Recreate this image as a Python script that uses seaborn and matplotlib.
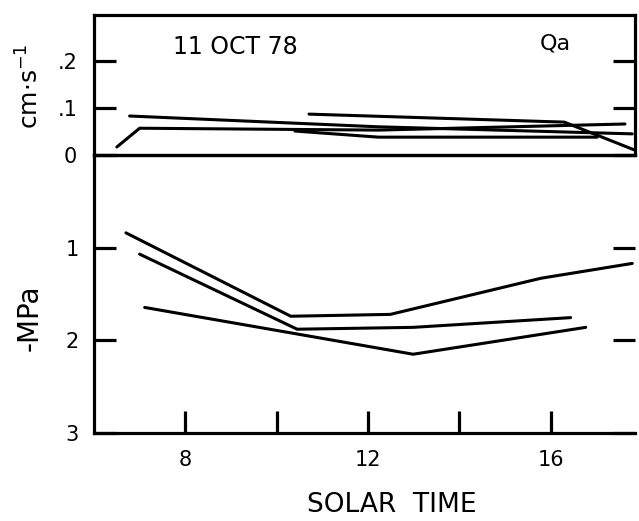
import matplotlib
matplotlib.use("Agg")
import matplotlib.pyplot as plt
import seaborn as sns
import pandas as pd

# Leaf conductance (cm s^-1) through the day
cond_hours = {
    "a": [6.50, 7.00, 12.23, 17.63],
    "b": [6.78, 12.23, 17.79],
    "c": [10.40, 12.23, 17.02],
    "d": [10.71, 16.30, 17.83],
}
cond_values = {
    "a": [0.017, 0.057, 0.053, 0.066],
    "b": [0.083, 0.060, 0.045],
    "c": [0.051, 0.038, 0.038],
    "d": [0.087, 0.070, 0.011],
}

# Leaf water potential (-MPa)
psi_hours = {
    "a": [6.70, 10.31, 12.49, 15.79, 17.79],
    "b": [7.00, 10.45, 12.99, 16.44],
    "c": [7.11, 10.49, 12.99, 16.77],
}
psi_values = {
    "a": [0.84, 1.74, 1.72, 1.33, 1.17],
    "b": [1.07, 1.88, 1.86, 1.755],
    "c": [1.645, 1.935, 2.15, 1.86],
}

cond_ticks = [0, 0.1, 0.2]
cond_ticklabels = ["0", ".1", ".2"]
psi_ticks = [1, 2, 3]
psi_ticklabels = ["1", "2", "3"]
hour_ticks = [8, 10, 12, 14, 16]
hour_ticklabels = ["8", "", "12", "", "16"]


def to_frame(hours, values):
    rows = []
    for key in hours:
        for h, v in zip(hours[key], values[key]):
            rows.append({"leaf": key, "hour": h, "value": v})
    return pd.DataFrame(rows)


cond_df = to_frame(cond_hours, cond_values)
psi_df = to_frame(psi_hours, psi_values)

sns.set_theme(style="white")
plt.rcParams["font.family"] = ["DejaVu Sans"]
for key in ("text.color", "axes.labelcolor", "xtick.color", "ytick.color",
            "xtick.labelcolor", "ytick.labelcolor"):
    plt.rcParams[key] = "black"

W, H = 639, 521
fig = plt.figure(figsize=(W / 100, H / 100), dpi=100)

left, right = 94 / W, 635 / W
y_top, y_mid, y_bot = 1 - 15 / H, 1 - 155 / H, 1 - 433 / H
ax_bot = fig.add_axes([left, y_bot, right - left, y_mid - y_bot])
ax_top = fig.add_axes([left, y_mid, right - left, y_top - y_mid], sharex=ax_bot)
ax_bot.patch.set_visible(False)
ax_top.patch.set_visible(False)

lw = 2.2
sns.lineplot(data=cond_df, x="hour", y="value", units="leaf", estimator=None,
             sort=False, color="black", linewidth=lw, ax=ax_top)
sns.lineplot(data=psi_df, x="hour", y="value", units="leaf", estimator=None,
             sort=False, color="black", linewidth=lw, ax=ax_bot)

xmin, xmax = 6.0, 17.85
ax_bot.set_xlim(xmin, xmax)
ax_top.set_ylim(0, 0.298)
ax_bot.set_ylim(3, 0)

spine_w = 2.3
for ax in (ax_top, ax_bot):
    for s in ax.spines.values():
        s.set_linewidth(spine_w)
        s.set_color("black")
    ax.set_xlabel("")
    ax.set_ylabel("")
    ax.grid(False)

ax_bot.spines["right"].set_visible(False)

tick_kw = dict(direction="in", length=16, width=2.3, color="black")
ax_top.set_yticks(cond_ticks)
ax_top.set_yticklabels(cond_ticklabels, fontsize=15)
ax_top.tick_params(axis="y", left=True, right=True, pad=12, **tick_kw)
ax_top.tick_params(axis="x", bottom=False, labelbottom=False)

ax_bot.set_yticks(psi_ticks)
ax_bot.set_yticklabels(psi_ticklabels, fontsize=15)
ax_bot.tick_params(axis="y", left=True, right=True, pad=11, **tick_kw)
ax_bot.set_xticks(hour_ticks)
ax_bot.tick_params(axis="x", bottom=True, pad=12, **tick_kw)
ax_bot.set_xticklabels(hour_ticklabels, fontsize=15)

ax_top.text((173 - 94) / (635 - 94), (155 - 47) / 140, "11 OCT 78",
            transform=ax_top.transAxes, fontsize=17, va="center", ha="left")
ax_top.text((540 - 94) / (635 - 94), (155 - 44) / 140, "Qa",
            transform=ax_top.transAxes, fontsize=16, va="center", ha="left")

fig.text(30 / W, 1 - 86 / H, "cm·s$^{-1}$", rotation=90, fontsize=18,
         ha="center", va="center")
fig.text(30 / W, 1 - 318 / H, "-MPa", rotation=90, fontsize=20,
         ha="center", va="center")
fig.text(392 / W, 1 - 505 / H, "SOLAR  TIME", fontsize=19,
         ha="center", va="center")

fig.savefig("out.png", dpi=100)
